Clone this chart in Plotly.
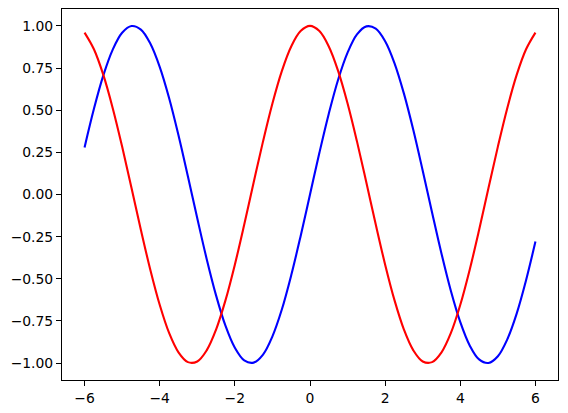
import plotly.graph_objects as go

# values, x step 0.25
x_vals = [-6.0, -5.75, -5.5, -5.25, -5.0, -4.75, -4.5, -4.25, -4.0, -3.75, -3.5, -3.25,
          -3.0, -2.75, -2.5, -2.25, -2.0, -1.75, -1.5, -1.25, -1.0, -0.75, -0.5, -0.25,
          0.0, 0.25, 0.5, 0.75, 1.0, 1.25, 1.5, 1.75, 2.0, 2.25, 2.5, 2.75,
          3.0, 3.25, 3.5, 3.75, 4.0, 4.25, 4.5, 4.75, 5.0, 5.25, 5.5, 5.75, 6.0]

blue_vals = [0.279, 0.508, 0.706, 0.859, 0.959, 0.999, 0.978, 0.895, 0.757, 0.572, 0.351, 0.108,
             -0.141, -0.382, -0.598, -0.778, -0.909, -0.984, -0.997, -0.949, -0.841, -0.682, -0.479, -0.247,
             0.000, 0.247, 0.479, 0.682, 0.841, 0.949, 0.997, 0.984, 0.909, 0.778, 0.598, 0.382,
             0.141, -0.108, -0.351, -0.572, -0.757, -0.895, -0.978, -0.999, -0.959, -0.859, -0.706, -0.508, -0.279]

red_vals = [0.960, 0.861, 0.709, 0.512, 0.284, 0.038, -0.211, -0.446, -0.654, -0.821, -0.936, -0.994,
            -0.990, -0.924, -0.801, -0.628, -0.416, -0.178, 0.071, 0.315, 0.540, 0.732, 0.878, 0.969,
            1.000, 0.969, 0.878, 0.732, 0.540, 0.315, 0.071, -0.178, -0.416, -0.628, -0.801, -0.924,
            -0.990, -0.994, -0.936, -0.821, -0.654, -0.446, -0.211, 0.038, 0.284, 0.512, 0.709, 0.861, 0.960]

y_ticks = [-1.0, -0.75, -0.5, -0.25, 0.0, 0.25, 0.5, 0.75, 1.0]
x_ticks = [-6, -4, -2, 0, 2, 4, 6]

fig = go.Figure()
fig.add_trace(go.Scatter(x=x_vals, y=blue_vals, mode="lines",
                         line=dict(color="blue", width=2.1, shape="spline")))
fig.add_trace(go.Scatter(x=x_vals, y=red_vals, mode="lines",
                         line=dict(color="red", width=2.1, shape="spline")))

axis_style = dict(showgrid=False, zeroline=False, showline=True, linecolor="black",
                  linewidth=1, mirror=True, ticks="outside", ticklen=5, tickwidth=1,
                  tickcolor="black", tickfont=dict(family="DejaVu Sans", size=13.9, color="black"))

fig.update_xaxes(range=[-6.6, 6.6], tickvals=x_ticks, **axis_style)
fig.update_yaxes(range=[-1.1, 1.1], tickvals=y_ticks, tickformat=".2f", **axis_style)

fig.update_layout(width=568, height=413, showlegend=False,
                  margin=dict(l=62, r=10, t=9, b=33, autoexpand=False),
                  plot_bgcolor="white", paper_bgcolor="white")

# drop the page's default body margin so the figure sits at the window corner
fig.write_html("out.html", config={"displayModeBar": False},
               post_script="document.body.style.margin='0';")
